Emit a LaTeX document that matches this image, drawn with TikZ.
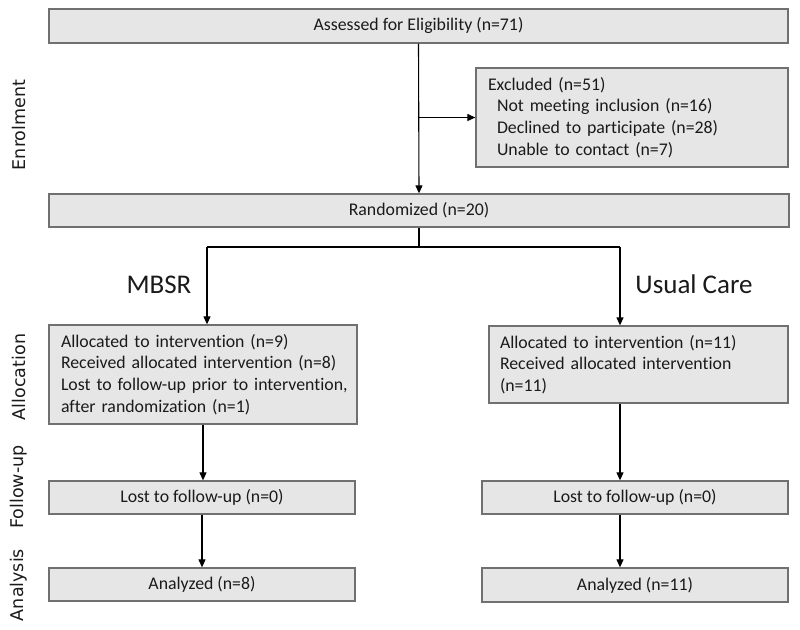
\documentclass[tikz,border=0pt]{standalone}
\usepackage{fontspec}
\setmainfont{Carlito}[Ligatures=NoCommon]
\newfontfamily\sidefont{DejaVu Sans}
\usetikzlibrary{arrows.meta}
\definecolor{boxfill}{HTML}{E6E6E6}
\definecolor{boxdraw}{HTML}{707070}
\definecolor{txt}{HTML}{1A1A1A}
\tikzset{
  flowbox/.style={draw=boxdraw, fill=boxfill, line width=1.3pt, inner sep=0pt,
    text=txt, font=\fontsize{17.8}{21.7}\selectfont},
  conn/.style={line width=1.1pt, draw=black},
  arr/.style={conn, -{Triangle[length=8pt,width=7pt]}},
  armlabel/.style={font=\fontsize{27}{31}\selectfont, text=txt, inner sep=0pt},
  sidelabel/.style={font=\sidefont\fontsize{17.5}{20}\selectfont, text=txt, rotate=90, inner sep=0pt}
}
\begin{document}
\begin{tikzpicture}[x=1pt,y=-1pt]
\useasboundingbox (0,0) rectangle (800,629);

\node[flowbox, minimum width=739pt, minimum height=34pt] (top) at (418.5,26) {Assessed for Eligibility (n=71)};
\node[flowbox, align=left, minimum width=312pt, minimum height=99pt, text width=288pt, inner xsep=12pt] (excl) at (632,117.5)
  {Excluded (n=51)\\\hspace*{9pt}Not meeting inclusion (n=16)\\\hspace*{9pt}Declined to participate (n=28)\\\hspace*{9pt}Unable to contact (n=7)};
\node[flowbox, minimum width=740pt, minimum height=33pt] (rand) at (419,210.5) {Randomized (n=20)};

\coordinate (lb) at (207,247);
\coordinate (rb) at (620,247);

\node[armlabel] (mbsr) at (159,285) {MBSR};
\node[armlabel] (uc) at (694,284) {Usual Care};

\node[flowbox, align=left, minimum width=308pt, minimum height=99pt, text width=284pt, inner xsep=12pt] (alloc1) at (203,374.5)
  {\mbox{Allocated to intervention (n=9)}\\\mbox{Received allocated intervention (n=8)}\\\mbox{Lost to follow-up prior to intervention,}\\\mbox{after randomization (n=1)}};
\node[flowbox, align=left, minimum width=299pt, minimum height=77pt, text width=277pt, inner xsep=11pt] (alloc2) at (638.5,364.5)
  {\mbox{Allocated to intervention (n=11)}\\\mbox{Received allocated intervention}\\(n=11)};

\node[flowbox, minimum width=306pt, minimum height=33pt] (fu1) at (202,497.5) {Lost to follow-up (n=0)};
\node[flowbox, minimum width=306pt, minimum height=33pt] (an1) at (202,584.5) {Analyzed (n=8)};
\node[flowbox, minimum width=306pt, minimum height=33pt] (fu2) at (635,497.5) {Lost to follow-up (n=0)};
\node[flowbox, minimum width=306pt, minimum height=34pt] (an2) at (635,585) {Analyzed (n=11)};

\node[sidelabel] (l1) at (19,125) {Enrolment};
\node[sidelabel] (l2) at (19,377) {Allocation};
\node[sidelabel] (l3) at (19,487) {Follow-up};
\node[sidelabel] (l4) at (19,585) {Analysis};

\draw[arr] (top.south) -- (rand.north);
\draw[arr] (top.south |- excl.west) -- (excl.west);
\draw[conn] (rand.south) -- (rand.south |- lb);
\draw[conn] (lb) -- (rb);
\draw[arr] (lb) -- (lb |- alloc1.north);
\draw[arr] (rb) -- (rb |- alloc2.north);
\draw[arr] (alloc1.south) -- (alloc1.south |- fu1.north);
\draw[arr] (fu1.south) -- (an1.north);
\draw[arr] (alloc2.south -| rb) -- (fu2.north -| rb);
\draw[arr] (fu2.south -| rb) -- (an2.north -| rb);
\end{tikzpicture}
\end{document}
